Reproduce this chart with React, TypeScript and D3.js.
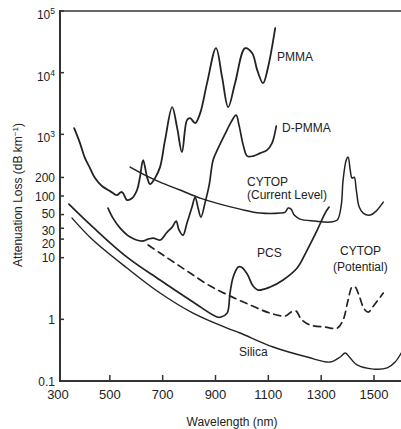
import React from "react";
import * as d3 from "d3";

// wavelength (nm), attenuation loss (dB/km)
const pmma: [number, number][] = [
  [365, 1259], [387, 720], [406, 411], [425, 283], [444, 195], [470, 145], [501, 120],
  [527, 103], [542, 116], [550, 111], [565, 86], [584, 92], [603, 125], [614, 202],
  [626, 382], [641, 202], [652, 156], [671, 195], [690, 294], [709, 805], [736, 2760],
  [755, 1259], [773, 514], [792, 1700], [804, 1832], [823, 1520], [842, 2206], [868, 6760],
  [902, 24950], [925, 8450], [948, 2760], [974, 6760], [1012, 24950], [1039, 20700],
  [1058, 10990], [1080, 6760], [1099, 12280], [1126, 52600],
];

const dpmma: [number, number][] = [
  [493, 63.7], [512, 43.8], [539, 30.2], [577, 21.6], [622, 18.6], [645, 20.0], [664, 20.8],
  [690, 19.3], [717, 26.0], [736, 31.3], [751, 39.2], [762, 28.0], [777, 23.2], [792, 36.4],
  [811, 66.1], [823, 96], [834, 63.7], [845, 45.5], [861, 79.6], [876, 150], [891, 382],
  [910, 597], [936, 1007], [959, 1577], [978, 2047], [989, 1409], [1005, 668], [1020, 443],
  [1042, 443], [1069, 496], [1095, 555], [1114, 720], [1130, 1358],
];

const cytopCurrent: [number, number][] = [
  [577, 294], [633, 218], [690, 168], [766, 125], [842, 92.5], [917, 73.9], [993, 61.3],
  [1069, 52.8], [1145, 52.8], [1164, 54.8], [1175, 63.7], [1186, 61.3], [1198, 49.0],
  [1220, 42.2], [1277, 39.2], [1334, 37.8], [1361, 40.7], [1376, 71.2], [1383, 181],
  [1395, 382], [1402, 427], [1410, 263], [1417, 195], [1425, 202], [1433, 125], [1444, 66.1],
  [1459, 52.8], [1486, 49.0], [1508, 56.9], [1535, 79.6],
];

const pcs: [number, number][] = [
  [345, 73.9], [436, 31.3], [565, 10.2], [690, 4.34], [815, 1.91], [906, 1.09], [921, 1.09],
  [944, 1.26], [955, 2.67], [967, 4.85], [986, 7.04], [997, 7.04], [1020, 5.42], [1042, 3.46],
  [1061, 2.98], [1107, 3.34], [1156, 4.34], [1209, 6.78], [1247, 13.3], [1285, 28.0],
  [1315, 52.8], [1330, 66.1],
];

const cytopPotential: [number, number][] = [
  [645, 16.0], [690, 11.9], [747, 8.17], [804, 5.63], [880, 3.46], [955, 2.39], [1031, 1.71],
  [1107, 1.26], [1164, 1.13], [1186, 1.31], [1205, 1.36], [1224, 1.01], [1258, 0.81],
  [1315, 0.75], [1361, 0.72], [1383, 0.975], [1402, 2.06], [1417, 3.34], [1429, 3.34],
  [1444, 2.39], [1463, 1.47], [1478, 1.31], [1501, 1.71], [1535, 2.67],
];

const silica: [number, number][] = [
  [357, 43.8], [436, 19.3], [565, 6.78], [690, 2.67], [815, 1.26], [944, 0.72], [993, 0.60],
  [1118, 0.356], [1247, 0.245], [1334, 0.203], [1372, 0.245], [1391, 0.284], [1410, 0.236],
  [1436, 0.182], [1497, 0.156], [1550, 0.163], [1580, 0.203], [1603, 0.284],
];

const wlTicks = [300, 500, 700, 900, 1100, 1300, 1500];
const lossTicks = [0.1, 1, 10, 20, 30, 50, 100, 200, 1e3, 1e4, 1e5];

const W = 401;
const H = 429;
const font = "'Liberation Sans', Arial, Helvetica, sans-serif";
const ink = "#222";

// small nudges so the crowded 20/30/50 labels don't collide
const labelNudge: Record<string, number> = { "50": -1.5, "30": 2, "20": 4.5 };

export default function App() {
  const x = d3.scaleLinear().domain([300, 1500]).range([57, 374]);
  const y = d3.scaleLog().domain([0.1, 1e5]).range([381, 11]);
  const spineX = 60;
  const baseY = 381;

  const line = d3
    .line<[number, number]>()
    .x((d) => x(d[0]))
    .y((d) => y(d[1]))
    .curve(d3.curveCatmullRom.alpha(0.5));

  const series = [
    { data: pmma, width: 1.8, dash: undefined },
    { data: dpmma, width: 1.7, dash: undefined },
    { data: cytopCurrent, width: 1.5, dash: undefined },
    { data: pcs, width: 1.7, dash: undefined },
    { data: cytopPotential, width: 1.7, dash: "7,5" },
    { data: silica, width: 1.4, dash: undefined },
  ];

  const labels = [
    { text: "PMMA", x: 277, y: 61 },
    { text: "D-PMMA", x: 282, y: 132 },
    { text: "CYTOP", x: 247, y: 186 },
    { text: "(Current Level)", x: 247, y: 199 },
    { text: "PCS", x: 257, y: 257 },
    { text: "CYTOP", x: 340, y: 255 },
    { text: "(Potential)", x: 333, y: 271 },
    { text: "Silica", x: 239, y: 356 },
  ];

  const fmtTick = (v: number) => {
    if (v >= 1000) {
      const e = Math.round(Math.log10(v));
      return (
        <>
          10
          <tspan dy={-5} fontSize={8.5}>
            {e}
          </tspan>
        </>
      );
    }
    return String(v);
  };

  return (
    <svg
      width={W}
      height={H}
      style={{ position: "absolute", left: 0, top: 0, background: "#fff" }}
      fontFamily={font}
    >
      <rect width={W} height={H} fill="#fff" />

      {/* frame */}
      <line x1={spineX} x2={W} y1={11} y2={11} stroke="#333" strokeWidth={1.6} />
      <line x1={spineX} x2={spineX} y1={10} y2={baseY + 1} stroke="#333" strokeWidth={2} />
      <line x1={spineX - 1} x2={W} y1={baseY} y2={baseY} stroke="#333" strokeWidth={2} />

      {/* x ticks */}
      {wlTicks.map((t) => (
        <g key={"x" + t}>
          {t !== 300 && (
            <line x1={x(t)} x2={x(t)} y1={baseY} y2={baseY - 6} stroke="#333" strokeWidth={1.5} />
          )}
          <text x={t === 300 ? x(t) + 1 : x(t)} y={398.5} fontSize={13} textAnchor="middle" fill={ink}>
            {t}
          </text>
        </g>
      ))}

      {/* y ticks */}
      {lossTicks.map((t) => (
        <g key={"y" + t}>
          <line x1={spineX} x2={spineX + 4} y1={y(t)} y2={y(t)} stroke="#333" strokeWidth={1.5} />
          <text
            x={55}
            y={y(t) + (t >= 1000 ? 8 : 4.5) + (labelNudge[String(t)] || 0)}
            fontSize={12}
            textAnchor="end"
            fill={ink}
          >
            {fmtTick(t)}
          </text>
        </g>
      ))}

      {/* curves */}
      {series.map((s, i) => (
        <path
          key={i}
          d={line(s.data) || ""}
          fill="none"
          stroke={ink}
          strokeWidth={s.width}
          strokeDasharray={s.dash}
          strokeLinejoin="round"
          strokeLinecap="round"
        />
      ))}

      {/* curve labels */}
      {labels.map((l, i) => (
        <text key={i} x={l.x} y={l.y} fontSize={12} fill={ink}>
          {l.text}
        </text>
      ))}

      {/* axis titles */}
      <text x={232} y={426} fontSize={12} textAnchor="middle" fill={ink}>
        Wavelength (nm)
      </text>
      <text
        transform="translate(22,195) rotate(-90)"
        fontSize={12}
        textAnchor="middle"
        fill={ink}
      >
        Attenuation Loss (dB km
        <tspan dy={-4} fontSize={8}>
          −1
        </tspan>
        <tspan dy={4}>)</tspan>
      </text>
    </svg>
  );
}
